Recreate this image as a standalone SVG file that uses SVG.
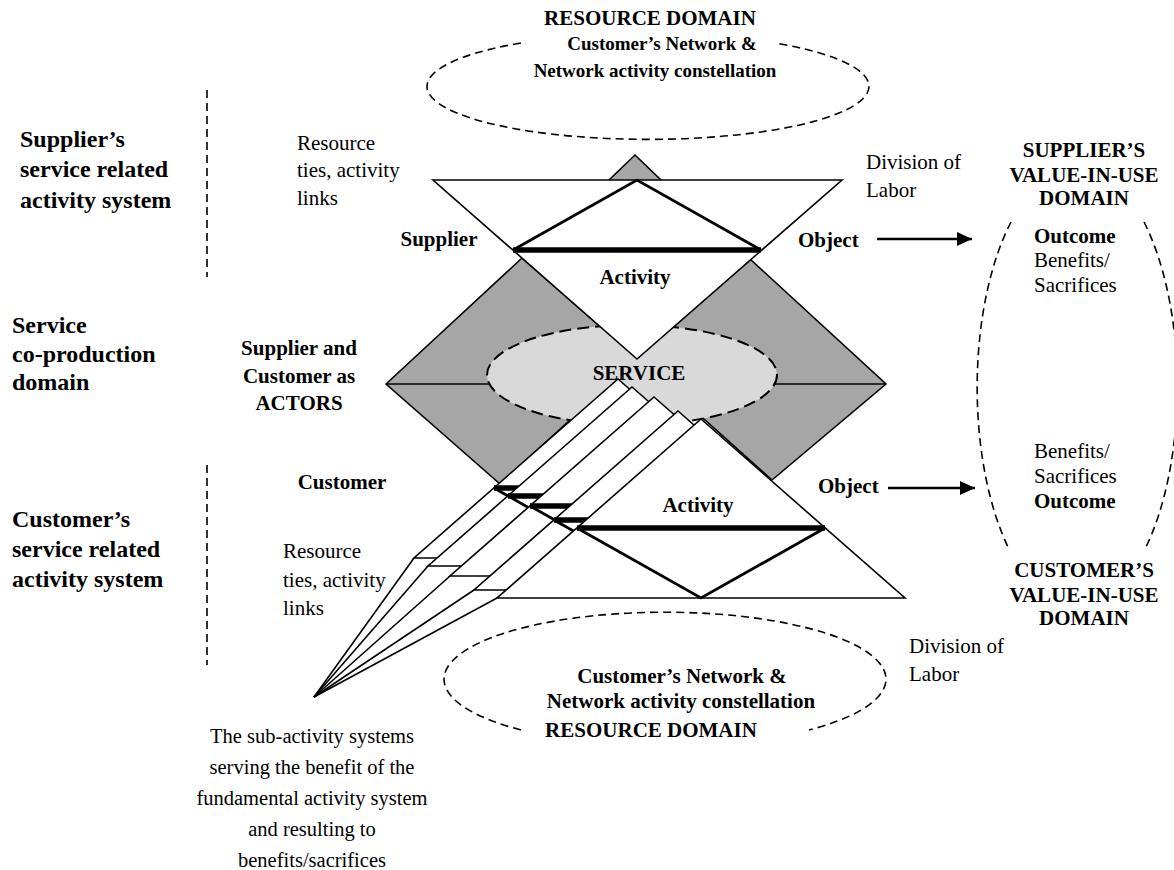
<svg xmlns="http://www.w3.org/2000/svg" width="1174" height="870" viewBox="0 0 1174 870">
<defs>
<style>
.t{font-family:"Liberation Serif","Times New Roman",serif;fill:#000}
.b{font-weight:bold}
.s21{font-size:21px}
.s20{font-size:20.5px}
.s19{font-size:19px}
.s24{font-size:24px}
.m{text-anchor:middle}
.edge{fill:none;stroke:#000;stroke-width:1.6}
.card{fill:#fff;stroke:#000;stroke-width:1.6;stroke-linejoin:miter}
.gray{fill:#a6a6a6;stroke:#000;stroke-width:1.6}
.bar{stroke:#000;stroke-width:5.5;fill:none}
.inner{stroke:#000;stroke-width:2.8;fill:none;stroke-linejoin:miter}
.dash{fill:none;stroke:#000;stroke-width:1.6;stroke-dasharray:8 5}
.arrow{stroke:#000;stroke-width:2.5;fill:none}
</style>
<marker id="ah" markerUnits="userSpaceOnUse" markerWidth="16" markerHeight="14" refX="15" refY="7" orient="auto">
<path d="M0,0 L15,7 L0,14 z" fill="#000"/>
</marker>
</defs>
<rect width="1174" height="870" fill="#fff"/>

<g id="domain-dividers">
<line class="dash" x1="207" y1="90" x2="207" y2="277"/>
<line class="dash" x1="207" y1="465" x2="207" y2="665"/>
</g>

<g id="resource-domain-top">
<path class="dash" d="M521,43 A221 53 0 1 0 775,43"/>
<text class="t b s21 m" x="650" y="25">RESOURCE DOMAIN</text>
<text class="t b s19 m" x="662" y="50">Customer’s Network &amp;</text>
<text class="t b s19 m" x="655" y="77">Network activity constellation</text>
</g>

<g id="coproduction">
<polygon class="gray" points="386,384 522,258 637,359 500,484"/>
<polygon class="gray" points="750,259 886,384 772,480 637,359"/>
<line class="edge" x1="386" y1="384" x2="886" y2="384"/>
<ellipse cx="632" cy="375" rx="145" ry="50" fill="#d9d9d9" stroke="#000" stroke-width="2" stroke-dasharray="12 6"/>
</g>

<g id="supplier-activity-system">
<polygon class="gray" points="635,155 662,181 608,181"/>
<polygon class="card" points="433,180 842,180 637,359"/>
<polyline class="inner" points="513,250 637,180 761,250"/>
<line class="bar" x1="513" y1="250" x2="761" y2="250"/>
</g>

<g id="connectors">
<line class="edge" x1="314" y1="697" x2="414" y2="558"/>
<line class="edge" x1="314" y1="697" x2="428" y2="566"/>
<line class="edge" x1="314" y1="697" x2="450" y2="576"/>
<line class="edge" x1="314" y1="697" x2="474" y2="590"/>
<line class="edge" x1="314" y1="697" x2="497" y2="598"/>
<line class="arrow" x1="877" y1="239" x2="972" y2="239" marker-end="url(#ah)"/>
<line class="arrow" x1="888" y1="488" x2="975" y2="488" marker-end="url(#ah)"/>
</g>

<g id="sub-activity-system-1">
<polygon class="card" points="618,379 822,558 414,558"/>
<polyline class="inner" points="494,488 618,558 742,488"/>
<line class="bar" x1="494" y1="488" x2="742" y2="488"/>
</g>
<g id="sub-activity-system-2">
<polygon class="card" points="632,387 836,566 428,566"/>
<polyline class="inner" points="508,496 632,566 756,496"/>
<line class="bar" x1="508" y1="496" x2="756" y2="496"/>
</g>
<g id="sub-activity-system-3">
<polygon class="card" points="654,397 858,576 450,576"/>
<polyline class="inner" points="530,506 654,576 778,506"/>
<line class="bar" x1="530" y1="506" x2="778" y2="506"/>
</g>
<g id="sub-activity-system-4">
<polygon class="card" points="678,411 882,590 474,590"/>
<polyline class="inner" points="554,520 678,590 802,520"/>
<line class="bar" x1="554" y1="520" x2="802" y2="520"/>
</g>
<g id="customer-activity-system">
<polygon class="card" points="701,419 905,598 497,598"/>
<polyline class="inner" points="577,528 701,598 825,528"/>
<line class="bar" x1="577" y1="528" x2="825" y2="528"/>
</g>

<g id="resource-domain-bottom">
<path class="dash" d="M521,730 A221 67 0 1 1 809,730"/>
<text class="t b s21 m" x="682" y="683">Customer’s Network &amp;</text>
<text class="t b s21 m" x="681" y="708">Network activity constellation</text>
<text class="t b s21 m" x="651" y="737">RESOURCE DOMAIN</text>
</g>

<g id="value-in-use">
<path class="dash" d="M1011,222 A98 219 0 0 0 1008,547"/>
<path class="dash" d="M1144,222 A98 219 0 0 1 1146,547"/>
<text class="t b s21 m" x="1084" y="157">SUPPLIER’S</text>
<text class="t b s21 m" x="1084" y="182">VALUE-IN-USE</text>
<text class="t b s21 m" x="1084" y="205">DOMAIN</text>
<text class="t b s21" x="1034" y="243">Outcome</text>
<text class="t s21" x="1034" y="267">Benefits/</text>
<text class="t s21" x="1034" y="292">Sacrifices</text>
<text class="t s21" x="1034" y="458">Benefits/</text>
<text class="t s21" x="1034" y="483">Sacrifices</text>
<text class="t b s21" x="1034" y="508">Outcome</text>
<text class="t b s21 m" x="1084" y="577">CUSTOMER’S</text>
<text class="t b s21 m" x="1084" y="602">VALUE-IN-USE</text>
<text class="t b s21 m" x="1084" y="625">DOMAIN</text>
</g>

<g id="labels">
<text class="t b s24" x="20" y="147">Supplier’s</text>
<text class="t b s24" x="20" y="177">service related</text>
<text class="t b s24" x="20" y="208">activity system</text>
<text class="t b s24" x="12" y="333">Service</text>
<text class="t b s24" x="12" y="362">co-production</text>
<text class="t b s24" x="12" y="390">domain</text>
<text class="t b s24" x="12" y="527">Customer’s</text>
<text class="t b s24" x="12" y="557">service related</text>
<text class="t b s24" x="12" y="587">activity system</text>

<text class="t s21" x="297" y="150">Resource</text>
<text class="t s21" x="297" y="177">ties, activity</text>
<text class="t s21" x="297" y="205">links</text>
<text class="t s21" x="866" y="169">Division of</text>
<text class="t s21" x="866" y="197">Labor</text>
<text class="t b s21 m" x="439" y="246">Supplier</text>
<text class="t b s21" x="798" y="247">Object</text>
<text class="t b s21 m" x="635" y="284">Activity</text>

<text class="t b s21 m" x="299" y="355">Supplier and</text>
<text class="t b s21 m" x="299" y="383">Customer as</text>
<text class="t b s21 m" x="299" y="410">ACTORS</text>
<text class="t b s21 m" x="639" y="380">SERVICE</text>

<text class="t b s21 m" x="342" y="489">Customer</text>
<text class="t b s21" x="818" y="493">Object</text>
<text class="t b s21 m" x="698" y="512">Activity</text>
<text class="t s21" x="283" y="558">Resource</text>
<text class="t s21" x="283" y="587">ties, activity</text>
<text class="t s21" x="283" y="615">links</text>
<text class="t s21" x="909" y="653">Division of</text>
<text class="t s21" x="909" y="681">Labor</text>

<text class="t s20 m" x="312" y="743">The sub-activity systems</text>
<text class="t s20 m" x="312" y="774">serving the benefit of the</text>
<text class="t s20 m" x="312" y="805">fundamental activity system</text>
<text class="t s20 m" x="312" y="836">and resulting to</text>
<text class="t s20 m" x="312" y="867">benefits/sacrifices</text>
</g>
</svg>
